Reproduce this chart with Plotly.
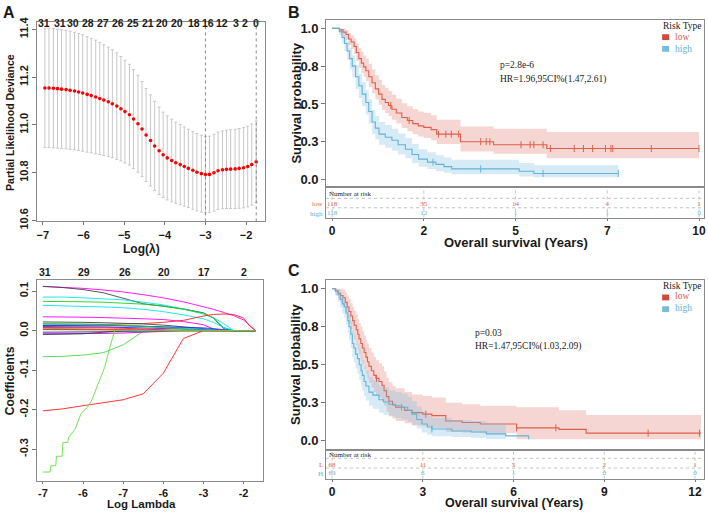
import numpy as np
import plotly.graph_objects as go

W, H = 708, 517


def fx(p):
    return p / W


def fy(p):
    return 1 - p / H


# ---------------- A (top): cross-validated partial likelihood deviance
log_lambda = [-6.95, -6.85, -6.74, -6.64, -6.54, -6.43, -6.33, -6.22, -6.12, -6.02,
              -5.91, -5.81, -5.70, -5.60, -5.50, -5.39, -5.29, -5.18, -5.08, -4.98,
              -4.87, -4.77, -4.66, -4.56, -4.46, -4.35, -4.25, -4.14, -4.04, -3.94,
              -3.83, -3.73, -3.62, -3.52, -3.42, -3.31, -3.21, -3.10, -3.00, -2.90,
              -2.79, -2.69, -2.58, -2.48, -2.38, -2.27, -2.17, -2.06, -1.96, -1.86, -1.75]
cv_mean = [11.155, 11.155, 11.154, 11.152, 11.150, 11.148, 11.145, 11.142, 11.138, 11.134,
           11.128, 11.123, 11.117, 11.111, 11.104, 11.097, 11.089, 11.079, 11.068, 11.056,
           11.043, 11.025, 11.005, 10.983, 10.958, 10.935, 10.912, 10.892, 10.875, 10.862,
           10.851, 10.842, 10.834, 10.826, 10.818, 10.810, 10.802, 10.796, 10.792, 10.793,
           10.800, 10.808, 10.812, 10.814, 10.815, 10.816, 10.818, 10.821, 10.826, 10.834, 10.846]
cv_sd = [0.250, 0.250, 0.250, 0.249, 0.249, 0.248, 0.247, 0.246, 0.245, 0.244,
         0.242, 0.240, 0.238, 0.235, 0.232, 0.229, 0.226, 0.223, 0.219, 0.215,
         0.211, 0.207, 0.203, 0.199, 0.195, 0.191, 0.187, 0.183, 0.179, 0.176,
         0.173, 0.170, 0.168, 0.166, 0.164, 0.163, 0.162, 0.161, 0.160, 0.160,
         0.161, 0.162, 0.163, 0.164, 0.165, 0.166, 0.167, 0.168, 0.169, 0.170, 0.171]
lambda_min = -3.0
lambda_1se = -1.75
nz_pos = [-6.98, -6.58, -6.26, -5.90, -5.53, -5.16, -4.79, -4.42, -4.06, -3.69,
          -3.29, -2.93, -2.58, -2.26, -2.02, -1.75]
nz_lab = ["31", "31", "30", "28", "27", "26", "25", "21", "20", "20",
          "18", "16", "12", "3", "2", "0"]

# ---------------- A (bottom): lasso coefficient paths
coef_knots = [-7.0, -6.5, -6.0, -5.5, -5.0, -4.5, -4.0, -3.5, -3.0, -2.75, -2.5, -2.25, -2.0, -1.85, -1.7]
coef_magenta_1 = [0.112, 0.110, 0.107, 0.103, 0.098, 0.091, 0.083, 0.073, 0.061, 0.054, 0.046, 0.038, 0.027, 0.014, 0.0]
coef_black_1 = [0.112, 0.109, 0.104, 0.096, 0.082, 0.068, 0.062, 0.055, 0.045, 0.032, 0.005, 0.0, 0.0, 0.0, 0.0]
coef_cyan_1 = [0.085, 0.085, 0.083, 0.081, 0.078, 0.072, 0.065, 0.055, 0.042, 0.033, 0.018, 0.0, 0.0, 0.0, 0.0]
coef_green_1 = [0.074, 0.074, 0.073, 0.072, 0.070, 0.067, 0.062, 0.054, 0.044, 0.032, 0.008, 0.0, 0.0, 0.0, 0.0]
coef_cyan_2 = [0.064, 0.063, 0.062, 0.060, 0.058, 0.054, 0.048, 0.040, 0.030, 0.021, 0.008, 0.0, 0.0, 0.0, 0.0]
coef_magenta_2 = [0.035, 0.035, 0.034, 0.033, 0.032, 0.030, 0.028, 0.023, 0.015, 0.004, 0.0, 0.0, 0.0, 0.0, 0.0]
coef_red_1 = [0.012, 0.013, 0.014, 0.015, 0.016, 0.018, 0.021, 0.026, 0.037, 0.041, 0.042, 0.041, 0.032, 0.012, 0.0]
coef_red_2 = [-0.203, -0.198, -0.190, -0.183, -0.175, -0.160, -0.108, -0.020, 0.0, 0.0, 0.0, 0.0, 0.0, 0.0, 0.0]
coef_green_2 = [-0.066, -0.065, -0.062, -0.056, -0.036, -0.002, 0.0, 0.0, 0.0, 0.0, 0.0, 0.0, 0.0, 0.0, 0.0]
coef_black_2 = [0.022, 0.022, 0.021, 0.020, 0.019, 0.017, 0.014, 0.010, 0.005, 0.002, 0.0, 0.0, 0.0, 0.0, 0.0]
coef_blue_1 = [0.010, 0.010, 0.009, 0.009, 0.008, 0.007, 0.006, 0.005, 0.003, 0.001, 0.0, 0.0, 0.0, 0.0, 0.0]
coef_green_3 = [0.006, 0.005, 0.004, 0.003, 0.001, 0.0, 0.0, 0.0, 0.0, 0.0, 0.0, 0.0, 0.0, 0.0, 0.0]
coef_blue_2 = [-0.004, -0.004, -0.003, -0.003, -0.002, -0.001, 0.0, 0.0, 0.0, 0.0, 0.0, 0.0, 0.0, 0.0, 0.0]
coef_gray_1 = [0.004, 0.004, 0.004, 0.003, 0.003, 0.002, 0.002, 0.001, 0.0, 0.0, 0.0, 0.0, 0.0, 0.0, 0.0]
coef_red_3 = [0.008, 0.008, 0.007, 0.007, 0.006, 0.004, 0.002, 0.0, 0.0, 0.0, 0.0, 0.0, 0.0, 0.0, 0.0]
coef_magenta_3 = [-0.008, -0.008, -0.007, -0.007, -0.006, -0.004, -0.002, 0.0, 0.0, 0.0, 0.0, 0.0, 0.0, 0.0, 0.0]
coef_cyan_3 = [0.016, 0.016, 0.015, 0.014, 0.013, 0.011, 0.009, 0.007, 0.004, 0.002, 0.0, 0.0, 0.0, 0.0, 0.0]
coef_yellow_1 = [0.002, 0.002, 0.002, 0.001, 0.001, 0.0, 0.0, 0.0, 0.0, 0.0, 0.0, 0.0, 0.0, 0.0, 0.0]
coef_black_3 = [-0.010, -0.009, -0.008, -0.004, 0.0, 0.0, 0.0, 0.0, 0.0, 0.0, 0.0, 0.0, 0.0, 0.0, 0.0]
coef_blue_3 = [0.013, 0.013, 0.013, 0.012, 0.012, 0.011, 0.010, 0.009, 0.007, 0.005, 0.002, 0.0, 0.0, 0.0, 0.0]
coef_green_4 = [0.018, 0.018, 0.017, 0.016, 0.014, 0.011, 0.007, 0.003, 0.0, 0.0, 0.0, 0.0, 0.0, 0.0, 0.0]
coef_red_4 = [0.003, 0.003, 0.003, 0.002, 0.002, 0.001, 0.0, 0.0, 0.0, 0.0, 0.0, 0.0, 0.0, 0.0, 0.0]
# the staircase green path has its own lambda points
stair_x = [-7.0, -6.82, -6.80, -6.68, -6.66, -6.52, -6.50, -6.38, -6.36, -6.20, -6.05, -6.00,
           -5.90, -5.80, -5.58, -5.46, -5.34, -5.21, -1.7]
stair_y = [-0.358, -0.358, -0.342, -0.342, -0.318, -0.318, -0.283, -0.283, -0.270, -0.250, -0.210, -0.205,
           -0.195, -0.180, -0.126, -0.093, -0.045, 0.0, 0.0]
coef_top_pos = [-6.95, -5.98, -4.96, -3.97, -2.98, -1.98]
coef_top_lab = ["31", "29", "26", "20", "17", "2"]

# ---------------- B: KM, training cohort
b_low_t = [0, 0.2, 0.3, 0.38, 0.45, 0.52, 0.6, 0.66, 0.73, 0.8, 0.86, 0.92, 1.0, 1.09, 1.18, 1.27,
           1.36, 1.45, 1.54, 1.63, 1.75, 1.9, 2.05, 2.2, 2.35, 2.5, 2.7, 2.85, 3.5, 4.4, 5.85, 10.0]
b_low_s = [1.0, 0.99, 0.975, 0.96, 0.93, 0.91, 0.88, 0.84, 0.80, 0.77, 0.745, 0.72, 0.68, 0.64, 0.60, 0.565,
           0.53, 0.51, 0.49, 0.465, 0.44, 0.41, 0.39, 0.37, 0.355, 0.345, 0.33, 0.30, 0.25, 0.23, 0.205, 0.205]
b_low_up = [1.0, 1.0, 1.0, 0.99, 0.97, 0.955, 0.935, 0.90, 0.87, 0.845, 0.82, 0.80, 0.765, 0.73, 0.69, 0.66,
            0.625, 0.605, 0.585, 0.56, 0.535, 0.505, 0.485, 0.465, 0.45, 0.44, 0.425, 0.395, 0.35, 0.335, 0.315, 0.315]
b_low_lo = [1.0, 0.97, 0.945, 0.925, 0.89, 0.865, 0.83, 0.785, 0.74, 0.705, 0.68, 0.65, 0.61, 0.57, 0.53, 0.495,
            0.46, 0.44, 0.42, 0.395, 0.37, 0.34, 0.32, 0.30, 0.285, 0.275, 0.26, 0.235, 0.185, 0.17, 0.14, 0.14]
b_low_cens = [1.6, 2.1, 2.9, 3.1, 3.25, 3.45, 4.05, 4.2, 4.3, 5.15, 5.4, 5.5, 5.75, 5.95,
              6.6, 6.85, 7.1, 7.45, 7.6, 7.65, 8.7, 10.0]
b_high_t = [0, 0.2, 0.27, 0.34, 0.41, 0.48, 0.55, 0.64, 0.73, 0.82, 0.92, 1.0, 1.09, 1.18,
            1.28, 1.45, 1.63, 1.8, 2.0, 2.18, 2.36, 2.6, 2.83, 3.05, 3.26, 5.1, 5.5, 7.8]
b_high_s = [1.0, 0.98, 0.94, 0.90, 0.85, 0.80, 0.75, 0.68, 0.62, 0.565, 0.51, 0.45, 0.38, 0.34,
            0.30, 0.28, 0.26, 0.23, 0.20, 0.165, 0.135, 0.115, 0.10, 0.085, 0.07, 0.055, 0.04, 0.04]
b_high_up = [1.0, 1.0, 0.98, 0.95, 0.91, 0.87, 0.82, 0.76, 0.70, 0.645, 0.59, 0.53, 0.46, 0.42,
             0.38, 0.36, 0.335, 0.305, 0.275, 0.235, 0.20, 0.18, 0.16, 0.145, 0.13, 0.11, 0.095, 0.095]
b_high_lo = [1.0, 0.955, 0.90, 0.85, 0.79, 0.73, 0.675, 0.60, 0.54, 0.485, 0.43, 0.37, 0.30, 0.265,
             0.23, 0.21, 0.19, 0.165, 0.14, 0.11, 0.085, 0.07, 0.055, 0.045, 0.035, 0.02, 0.015, 0.015]
b_high_cens = [2.75, 4.05, 5.75, 7.8]
b_risk_t = [0, 2.5, 5, 7.5, 10]
b_risk_low = ["118", "35", "14", "4", "1"]
b_risk_high = ["118", "12", "1", "1", "0"]

# ---------------- C: KM, validation cohort
c_low_t = [0, 0.12, 0.2, 0.28, 0.36, 0.44, 0.5, 0.56, 0.62, 0.68, 0.73, 0.8, 0.85, 0.89, 0.95, 1.0,
           1.06, 1.12, 1.17, 1.22, 1.3, 1.38, 1.45, 1.55, 1.65, 1.72, 1.8, 1.88, 2.0, 2.1, 2.4, 2.64,
           3.0, 3.3, 3.76, 4.3, 4.9, 6.1, 7.5, 8.4, 12.2]
c_low_s = [1.0, 0.985, 0.97, 0.955, 0.94, 0.91, 0.88, 0.85, 0.82, 0.79, 0.76, 0.73, 0.70, 0.67, 0.64, 0.61,
           0.58, 0.55, 0.52, 0.49, 0.46, 0.43, 0.41, 0.39, 0.365, 0.33, 0.29, 0.26, 0.235, 0.22, 0.20, 0.185,
           0.175, 0.165, 0.13, 0.12, 0.11, 0.085, 0.075, 0.05, 0.05]
c_low_up = [1.0, 1.0, 1.0, 1.0, 0.995, 0.975, 0.955, 0.93, 0.905, 0.88, 0.855, 0.83, 0.80, 0.775, 0.75, 0.72,
            0.69, 0.665, 0.64, 0.61, 0.58, 0.55, 0.53, 0.51, 0.49, 0.455, 0.415, 0.385, 0.36, 0.345, 0.32, 0.305,
            0.295, 0.285, 0.25, 0.24, 0.23, 0.22, 0.20, 0.17, 0.17]
c_low_lo = [1.0, 0.955, 0.93, 0.905, 0.885, 0.845, 0.805, 0.77, 0.735, 0.70, 0.665, 0.63, 0.60, 0.565, 0.53, 0.50,
            0.47, 0.44, 0.41, 0.38, 0.35, 0.32, 0.30, 0.285, 0.26, 0.23, 0.19, 0.165, 0.145, 0.13, 0.115, 0.10,
            0.095, 0.085, 0.06, 0.055, 0.05, 0.01, 0.01, 0.01, 0.01]
c_low_cens = [1.47, 3.1, 6.1, 7.4, 10.45, 12.15]
c_high_t = [0, 0.1, 0.2, 0.27, 0.34, 0.4, 0.46, 0.52, 0.56, 0.62, 0.67, 0.72, 0.78, 0.84, 0.9, 0.96,
            1.0, 1.06, 1.12, 1.22, 1.35, 1.55, 1.7, 1.88, 2.1, 2.3, 2.5, 2.64, 2.8, 2.97, 3.15, 3.3,
            3.96, 4.6, 5.1, 5.74, 6.5]
c_high_s = [1.0, 0.985, 0.96, 0.93, 0.90, 0.88, 0.84, 0.79, 0.75, 0.70, 0.64, 0.61, 0.57, 0.54, 0.50, 0.46,
            0.43, 0.39, 0.36, 0.32, 0.30, 0.27, 0.255, 0.24, 0.23, 0.22, 0.20, 0.175, 0.14, 0.11, 0.09, 0.077,
            0.064, 0.058, 0.045, 0.032, 0.01]
c_high_up = [1.0, 1.0, 0.995, 0.975, 0.955, 0.94, 0.905, 0.865, 0.83, 0.785, 0.73, 0.70, 0.665, 0.635, 0.60, 0.56,
             0.53, 0.49, 0.46, 0.42, 0.40, 0.365, 0.35, 0.33, 0.32, 0.31, 0.29, 0.26, 0.225, 0.19, 0.165, 0.15,
             0.135, 0.13, 0.115, 0.10]
c_high_lo = [1.0, 0.955, 0.915, 0.875, 0.835, 0.81, 0.765, 0.71, 0.665, 0.61, 0.55, 0.515, 0.475, 0.44, 0.40, 0.36,
             0.33, 0.295, 0.265, 0.23, 0.21, 0.185, 0.17, 0.16, 0.15, 0.14, 0.125, 0.105, 0.08, 0.055, 0.04, 0.03,
             0.025, 0.02, 0.012, 0.008]
c_high_cens = [2.3, 3.3]
c_risk_t = [0, 3, 6, 9, 12]
c_risk_low = ["68", "11", "5", "2", "1"]
c_risk_high = ["69", "6", "1", "0", "0"]

RED = "#dd5f4b"
BLUE = "#62b3d8"
RED_FILL = "rgba(226,120,106,0.30)"
BLUE_FILL = "rgba(120,190,224,0.30)"
SERIF = "Liberation Serif, Times New Roman, serif"
SANS = "Liberation Sans, Arial, sans-serif"

fig = go.Figure()

# ---- A top
fig.add_trace(go.Scatter(x=log_lambda, y=cv_mean, mode="markers", xaxis="x", yaxis="y",
                         marker=dict(color="red", size=3.6),
                         error_y=dict(type="data", array=cv_sd, color="#c8c8c8", thickness=1, width=1.5),
                         showlegend=False, hoverinfo="skip"))

# ---- A bottom
paths = [("#ff00ff", coef_magenta_1), ("#444444", coef_black_1), ("#00e5ee", coef_cyan_1),
         ("#22cc22", coef_green_1), ("#00e5ee", coef_cyan_2), ("#ff00ff", coef_magenta_2),
         ("#ff2020", coef_red_1), ("#ff2020", coef_red_2), ("#44dd44", coef_green_2),
         ("#444444", coef_black_2), ("#2020ff", coef_blue_1), ("#22cc22", coef_green_3),
         ("#2020ff", coef_blue_2), ("#a0a0a0", coef_gray_1), ("#ff2020", coef_red_3),
         ("#cc00cc", coef_magenta_3), ("#00cccc", coef_cyan_3), ("#e0e000", coef_yellow_1),
         ("#444444", coef_black_3), ("#3030ee", coef_blue_3), ("#22cc22", coef_green_4),
         ("#ff2020", coef_red_4)]
for col, ys in paths:
    fig.add_trace(go.Scatter(x=coef_knots, y=ys, mode="lines", xaxis="x3", yaxis="y3",
                             line=dict(color=col, width=0.9), showlegend=False, hoverinfo="skip"))
fig.add_trace(go.Scatter(x=stair_x, y=stair_y, mode="lines", xaxis="x3", yaxis="y3",
                         line=dict(color="#66dd44", width=0.9), showlegend=False, hoverinfo="skip"))


def step_at(ts, ss, c):
    i = np.searchsorted(ts, c, side="right") - 1
    return ss[i]


def km(t, s, up, lo, cens, color, fill, xa, ya, band_n=None):
    n = band_n or len(t)
    fig.add_trace(go.Scatter(x=t[:n], y=lo[:n], mode="lines", line=dict(width=0, shape="hv"),
                             xaxis=xa, yaxis=ya, showlegend=False, hoverinfo="skip"))
    fig.add_trace(go.Scatter(x=t[:n], y=up[:n], mode="lines", line=dict(width=0, shape="hv"),
                             fill="tonexty", fillcolor=fill,
                             xaxis=xa, yaxis=ya, showlegend=False, hoverinfo="skip"))
    fig.add_trace(go.Scatter(x=t, y=s, mode="lines", line=dict(color=color, width=1.1, shape="hv"),
                             xaxis=xa, yaxis=ya, showlegend=False, hoverinfo="skip"))
    fig.add_trace(go.Scatter(x=cens, y=[step_at(t, s, c) for c in cens], mode="markers",
                             marker=dict(symbol="line-ns", size=5, line=dict(color=color, width=1)),
                             xaxis=xa, yaxis=ya, showlegend=False, hoverinfo="skip"))


km(b_low_t, b_low_s, b_low_up, b_low_lo, b_low_cens, RED, RED_FILL, "x5", "y5")
km(b_high_t, b_high_s, b_high_up, b_high_lo, b_high_cens, BLUE, BLUE_FILL, "x5", "y5")
km(c_low_t, c_low_s, c_low_up, c_low_lo, c_low_cens, RED, RED_FILL, "x7", "y7")
km(c_high_t, c_high_s, c_high_up, c_high_lo, c_high_cens, BLUE, BLUE_FILL, "x7", "y7", band_n=len(c_high_up))

# risk tables
for xa, ya, ts, low, high, ylow, yhigh in [("x6", "y6", b_risk_t, b_risk_low, b_risk_high, 14, 4),
                                           ("x8", "y8", c_risk_t, c_risk_low, c_risk_high, 14.3, 5.3)]:
    fig.add_trace(go.Scatter(x=ts, y=[ylow] * len(ts), mode="text", text=low, xaxis=xa, yaxis=ya,
                             textfont=dict(family=SERIF, size=7, color=RED), showlegend=False, hoverinfo="skip"))
    fig.add_trace(go.Scatter(x=ts, y=[yhigh] * len(ts), mode="text", text=high, xaxis=xa, yaxis=ya,
                             textfont=dict(family=SERIF, size=7, color=BLUE), showlegend=False, hoverinfo="skip"))

box = dict(showline=True, linecolor="#8a8a8a", linewidth=1, mirror=True, showgrid=False, zeroline=False)
tfont = dict(family=SANS, size=11, color="#1a1a1a", weight="bold")
kmfont = dict(family=SANS, size=13, color="#1a1a1a", weight="bold")
kmxfont = dict(family=SANS, size=12, color="#1a1a1a", weight="bold")

fig.update_layout(
    width=W, height=H, margin=dict(l=0, r=0, t=0, b=0),
    paper_bgcolor="white", plot_bgcolor="white", showlegend=False,
    xaxis=dict(domain=[fx(37), fx(266)], range=[-7.147, -1.528], anchor="y",
               tickvals=[-7, -6, -5, -4, -3, -2], ticks="outside", ticklen=3, tickcolor="#777",
               tickfont=tfont, **box),
    yaxis=dict(domain=[fy(222), fy(17)], range=[10.596, 11.433], anchor="x",
               tickvals=[10.6, 10.8, 11.0, 11.2, 11.4], ticktext=["10.6", "10.8", "11.0", "11.2", "11.4"],
               tickangle=-90, ticks="outside", ticklen=4, tickcolor="#777", tickfont=tfont, **box),
    xaxis3=dict(domain=[fx(37), fx(264)], range=[-7.149, -1.509], anchor="y3",
                tickvals=[-7, -6, -5, -4, -3, -2], ticktext=["-7", "-6", "-7", "-6", "-3", "-2"],
                ticks="outside", ticklen=2, tickcolor="#777", tickfont=tfont, **box),
    yaxis3=dict(domain=[fy(488), fy(282)], range=[-0.380, 0.1284], anchor="x3",
                tickvals=[-0.3, -0.2, -0.1, 0.0, 0.1], ticktext=["-0.3", "-0.2", "-0.1", "0.0", "0.1"],
                tickangle=-90, ticks="outside", ticklen=4, tickcolor="#777", tickfont=tfont, **box),
    xaxis5=dict(domain=[fx(327), fx(706)], range=[-0.163, 10.136], anchor="y5",
                showticklabels=False, ticks="", **box),
    yaxis5=dict(domain=[fy(187), fy(15)], range=[-0.0516, 1.058], anchor="x5",
                tickvals=[0, 0.25, 0.5, 0.75, 1.0], ticktext=["0.0", "0.3", "0.5", "0.8", "1.0"],
                ticks="outside", ticklen=4, tickcolor="#777", tickfont=kmfont, **box),
    xaxis6=dict(domain=[fx(327), fx(706)], range=[-0.163, 10.136], anchor="y6",
                tickvals=b_risk_t, ticktext=["0", "2", "5", "7", "10"],
                ticks="outside", ticklen=2, tickcolor="#777", tickfont=kmxfont, **box),
    yaxis6=dict(domain=[fy(218), fy(187)], range=[0, 31], anchor="x6",
                showticklabels=False, ticks="", **box),
    xaxis7=dict(domain=[fx(327), fx(706)], range=[-0.198, 12.297], anchor="y7",
                showticklabels=False, ticks="", **box),
    yaxis7=dict(domain=[fy(456), fy(282)], range=[-0.0577, 1.0577], anchor="x7",
                tickvals=[0, 0.25, 0.5, 0.75, 1.0], ticktext=["0.0", "0.3", "0.5", "0.8", "1.0"],
                ticks="outside", ticklen=4, tickcolor="#777", tickfont=kmfont, **box),
    xaxis8=dict(domain=[fx(327), fx(706)], range=[-0.198, 12.297], anchor="y8",
                tickvals=c_risk_t, ticktext=["0", "3", "6", "9", "12"],
                ticks="outside", ticklen=2, tickcolor="#777", tickfont=kmxfont, **box),
    yaxis8=dict(domain=[fy(486), fy(456)], range=[0, 30], anchor="x8",
                showticklabels=False, ticks="", **box),
)

shapes = []
for v in [lambda_min, lambda_1se]:
    shapes.append(dict(type="line", xref="x", yref="y domain", x0=v, x1=v, y0=0, y1=1,
                       line=dict(color="#888", width=1, dash="dot")))
# dotted table grid
for xa, ya, ts, rows, top in [("x6", "y6", b_risk_t, [19.7, 10], 31), ("x8", "y8", c_risk_t, [21, 11], 30)]:
    for r in rows:
        shapes.append(dict(type="line", xref=xa + " domain", yref=ya, x0=0, x1=1, y0=r, y1=r,
                           line=dict(color="#b0b0b0", width=0.8, dash="dot")))
    for t in ts:
        shapes.append(dict(type="line", xref=xa, yref=ya, x0=t, x1=t, y0=0, y1=top,
                           line=dict(color="#b8b8b8", width=0.8, dash="dot")))
# legend keys
for y0 in [30, 297]:
    shapes.append(dict(type="rect", xref="paper", yref="paper", x0=fx(664), x1=fx(671), y0=fy(y0 + 6), y1=fy(y0),
                       fillcolor="#cf4a38", line=dict(width=0)))
    shapes.append(dict(type="rect", xref="paper", yref="paper", x0=fx(664), x1=fx(671), y0=fy(y0 + 18), y1=fy(y0 + 12),
                       fillcolor="#79bcd9", line=dict(width=0)))
fig.update_layout(shapes=shapes)

ann = []


def note(x, y, text, size, color="#1a1a1a", family=SANS, angle=0, xanchor="center", xref="paper", yref="paper"):
    ann.append(dict(x=x, y=y, xref=xref, yref=yref, text=text, showarrow=False, textangle=angle,
                    xanchor=xanchor, yanchor="middle", font=dict(family=family, size=size, color=color)))


# panel letters
note(fx(9), fy(8), "<b>A</b>", 16)
note(fx(295), fy(8), "<b>B</b>", 16)
note(fx(295), fy(272), "<b>C</b>", 16)
# A titles
note(fx(10), fy(120), "<b>Partial Likelihood Deviance</b>", 10.5, angle=-90)
note(fx(142), fy(250), "<b>Log(λ)</b>", 12)
note(fx(10), fy(385), "<b>Coefficients</b>", 12, angle=-90)
note(fx(142), fy(511.5), "<b>Log Lambda</b>", 11.5)
for p, lab in zip(nz_pos, nz_lab):
    ann.append(dict(x=p, y=fy(10), xref="x", yref="paper", text="<b>" + lab + "</b>", showarrow=False,
                    font=dict(family=SANS, size=10.5, color="#1a1a1a")))
for p, lab in zip(coef_top_pos, coef_top_lab):
    ann.append(dict(x=p, y=fy(274), xref="x3", yref="paper", text="<b>" + lab + "</b>", showarrow=False,
                    font=dict(family=SANS, size=10.5, color="#1a1a1a")))
# KM titles
note(fx(297), fy(101), "<b>Survival probability</b>", 13, angle=-90)
note(fx(297), fy(369), "<b>Survival probability</b>", 13, angle=-90)
note(fx(517), fy(244), "<b>Overall survival (Years)</b>", 13)
note(fx(515), fy(511), "<b>Overall survival (Years)</b>", 12.5)
# legends
for yl in [22, 288]:
    note(fx(663), fy(yl), "Risk Type", 9.5, family=SERIF, xanchor="left")
    note(fx(675), fy(yl + 11), "low", 9.5, color=RED, family=SERIF, xanchor="left")
    note(fx(675), fy(yl + 23), "high", 9.5, color=BLUE, family=SERIF, xanchor="left")
# stats
note(fx(499), fy(62), "p=2.8e-6", 9.5, family=SERIF, xanchor="left")
note(fx(499), fy(76), "HR=1.96,95CI%(1.47,2.61)", 9.5, family=SERIF, xanchor="left")
note(fx(474), fy(336), "p=0.03", 9.5, family=SERIF, xanchor="left")
note(fx(474), fy(350), "HR=1.47,95CI%(1.03,2.09)", 9.5, family=SERIF, xanchor="left")
# risk table labels
note(fx(328), fy(194), "Number at risk", 7, family=SERIF, xanchor="left")
note(fx(326), fy(204), "low", 7, color=RED, family=SERIF, xanchor="right")
note(fx(326), fy(214), "high", 7, color=BLUE, family=SERIF, xanchor="right")
note(fx(328), fy(462), "Number at risk", 7, family=SERIF, xanchor="left")
note(fx(326), fy(472), "L", 7, color=RED, family=SERIF, xanchor="right")
note(fx(326), fy(481), "H", 7, color=BLUE, family=SERIF, xanchor="right")
fig.update_layout(annotations=ann)

# page body has a default 8px margin; remove it so the figure sits at the window origin
fig.write_html("out.html", config={"displayModeBar": False},
               post_script="document.body.style.margin='0';document.body.style.overflow='hidden';")
